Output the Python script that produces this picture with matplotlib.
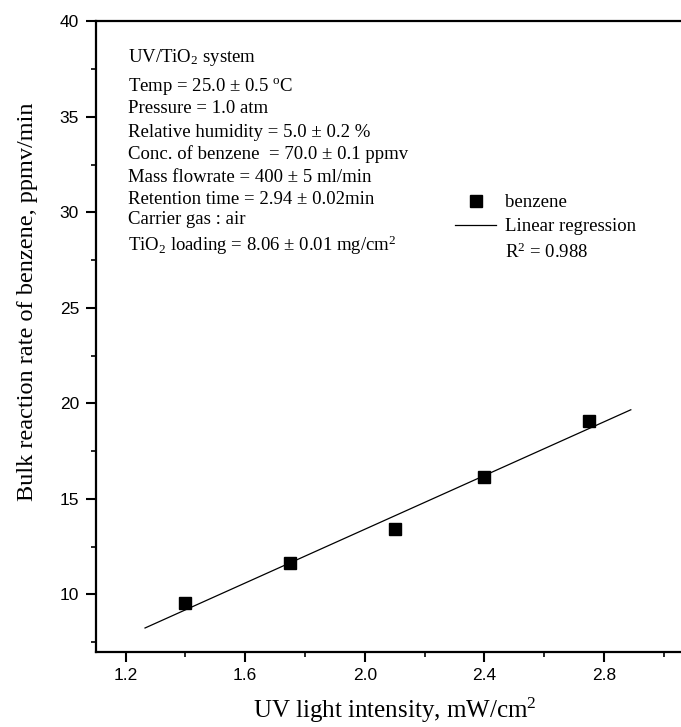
import numpy as np
import matplotlib
matplotlib.use("Agg")
import matplotlib.pyplot as plt
from matplotlib.lines import Line2D

plt.rcParams['mathtext.default'] = 'regular'

# ---- data ----
intensity = [1.40, 1.75, 2.10, 2.40, 2.75]
rate = [9.56, 11.62, 13.42, 16.16, 19.09]
fit_range = [1.265, 2.89]
r_squared = 0.988

x_ticks = [1.2, 1.6, 2.0, 2.4, 2.8]
y_ticks = [10, 15, 20, 25, 30, 35, 40]

info_lines = [
    "UV/TiO$_2$ system",
    "Temp = 25.0 \u00b1 0.5 $^o$C",
    "Pressure = 1.0 atm",
    "Relative humidity = 5.0 \u00b1 0.2 %",
    "Conc. of benzene  = 70.0 \u00b1 0.1 ppmv",
    "Mass flowrate = 400 \u00b1 5 ml/min",
    "Retention time = 2.94 \u00b1 0.02min",
    "Carrier gas : air",
    "TiO$_2$ loading = 8.06 \u00b1 0.01 mg/cm$^2$",
]
info_baselines_px = [62, 91, 113, 137, 159, 182, 204, 224, 251]

SERIF = 'Liberation Serif'
SANS = 'Liberation Sans'

W, H = 681, 727
fig = plt.figure(figsize=(W / 100, H / 100), dpi=100)
ax_left, ax_right, ax_top, ax_bot = 95.7, 693.6, 21.3, 651.7
ax = fig.add_axes([ax_left / W, 1 - ax_bot / H, (ax_right - ax_left) / W, (ax_bot - ax_top) / H])

ax.set_xlim(1.1, 3.1)
ax.set_ylim(7, 40)

# data
pts, = ax.plot(intensity, rate, linestyle='none', marker='s', markersize=8,
               color='black', label='benzene')
slope, intercept = np.polyfit(intensity, rate, 1)
xf = np.array(fit_range)
fit, = ax.plot(xf, slope * xf + intercept, color='black', linewidth=0.9,
               label='Linear regression')

# spines and ticks
for s in ['left', 'bottom', 'top']:
    ax.spines[s].set_linewidth(1.6)
ax.spines['right'].set_visible(False)
ax.set_xticks(x_ticks)
ax.set_xticks(np.arange(1.2, 3.11, 0.2), minor=True)
ax.set_yticks(y_ticks)
ax.set_yticks(np.arange(7.5, 40, 2.5), minor=True)
ax.xaxis.set_major_formatter(matplotlib.ticker.FormatStrFormatter('%.1f'))
ax.tick_params(which='major', direction='out', length=7, width=1.5, labelsize=12.5, pad=5)
ax.tick_params(which='minor', direction='out', length=3.5, width=1.2)
for lab in ax.get_xticklabels() + ax.get_yticklabels():
    lab.set_fontfamily(SANS)

ax.set_xlabel("UV light intensity, mW/cm$^2$", fontfamily=SERIF, fontsize=18, labelpad=9)
ax.set_ylabel("Bulk reaction rate of benzene, ppmv/min", fontfamily=SERIF, fontsize=17.5)
ax.yaxis.set_label_coords(-0.097, 0.555)

# info block
aw = ax_right - ax_left
ah = ax_bot - ax_top
for line, ypx in zip(info_lines, info_baselines_px):
    ax.text((128 - ax_left) / aw, (ax_bot - ypx) / ah, line, transform=ax.transAxes,
            fontfamily=SERIF, fontsize=13.5, va='baseline', ha='left')

# legend
blank = Line2D([], [], linestyle='none', marker=None)
leg = ax.legend([pts, fit, blank],
                ['benzene', 'Linear regression', 'R$^2$ = %.3f' % r_squared],
                loc='upper left', bbox_to_anchor=((455 - ax_left) / aw, (ax_bot - 194) / ah),
                frameon=False, borderpad=0, borderaxespad=0, handlelength=2.2,
                handletextpad=0.45, labelspacing=0.38, numpoints=1,
                prop={'family': SERIF, 'size': 13.5})

fig.savefig("out.png", dpi=100)
